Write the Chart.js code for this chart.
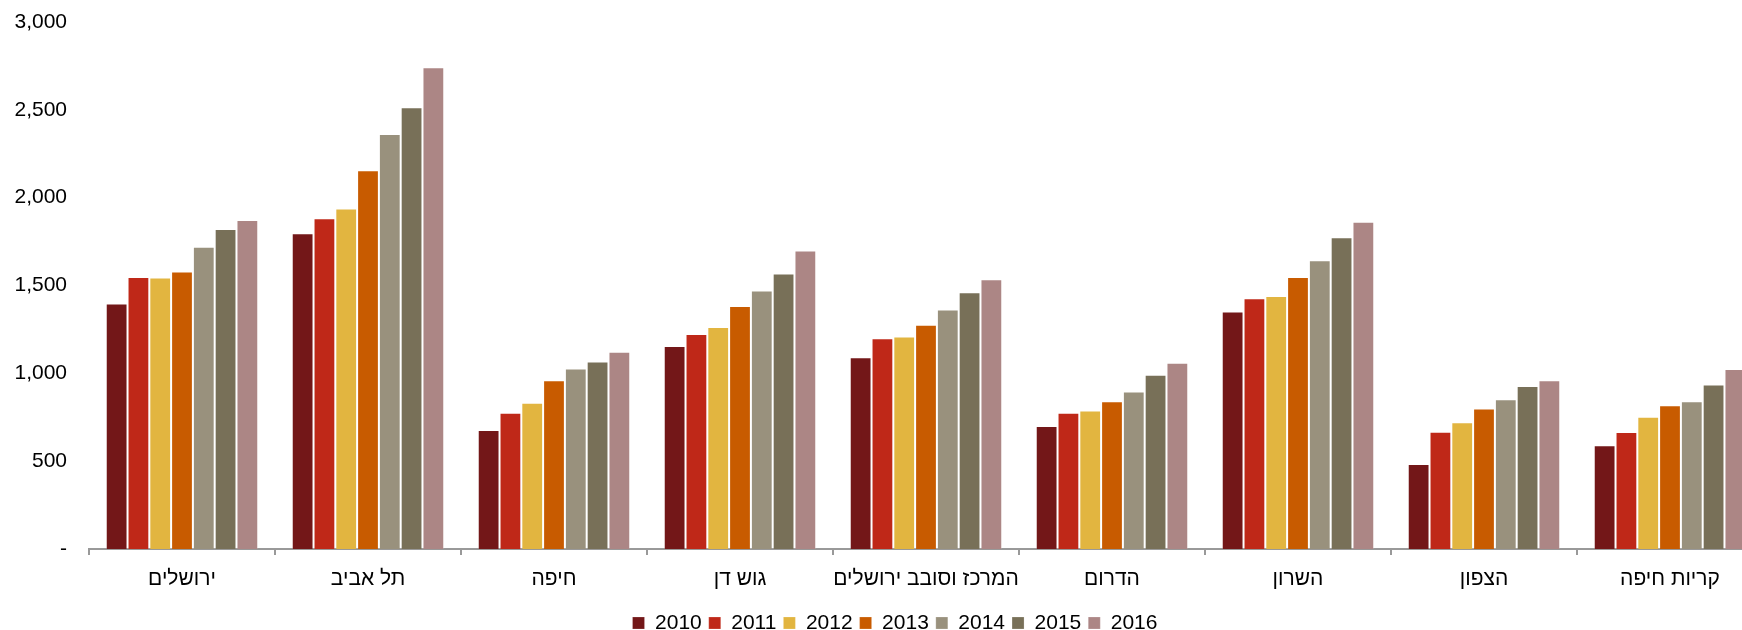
<!DOCTYPE html>
<html lang="he">
<head>
<meta charset="utf-8">
<title>מחירים לפי אזור</title>
<script src="https://cdn.jsdelivr.net/npm/chart.js@4.4.1/dist/chart.umd.min.js"></script>
<style>
    html, body { margin: 0; padding: 0; background: #fff; overflow: hidden; }
    #wrap { width: 1790px; height: 650px; }
</style>
</head>
<body>
<div id="wrap"><canvas id="regionChart" width="1790" height="650"></canvas></div>
<script>
// Regions on the x axis
const regions = ['ירושלים', 'תל אביב', 'חיפה', 'גוש דן', 'המרכז וסובב ירושלים', 'הדרום', 'השרון', 'הצפון', 'קריות חיפה'];
const years = ['2010', '2011', '2012', '2013', '2014', '2015', '2016'];

// Values per year, one entry per region
const v2010 = [1397, 1797, 677, 1156, 1092, 700, 1352, 484, 590];
const v2011 = [1548, 1883, 776, 1224, 1200, 776, 1428, 668, 666];
const v2012 = [1545, 1939, 832, 1264, 1210, 788, 1440, 721, 753];
const v2013 = [1580, 2156, 960, 1384, 1276, 841, 1548, 800, 818];
const v2014 = [1721, 2363, 1028, 1472, 1364, 896, 1644, 853, 841];
const v2015 = [1821, 2515, 1068, 1569, 1461, 992, 1775, 928, 937];
const v2016 = [1873, 2743, 1123, 1699, 1536, 1060, 1863, 960, 1025];

const yTicks = [0, 500, 1000, 1500, 2000, 2500, 3000];

const seriesValues = [v2010, v2011, v2012, v2013, v2014, v2015, v2016];
const colors = ['#731718', '#bf2818', '#e2b540', '#c85b00', '#99917d', '#787058', '#ac8685'];

const FONT = "'Liberation Sans', Arial, sans-serif";

const datasets = years.map((year, i) => ({
    label: year,
    data: seriesValues[i],
    backgroundColor: colors[i],
    borderColor: 'rgba(255,255,255,0.2)',
    borderWidth: 1,
    categoryPercentage: 0.82,
    barPercentage: 1.0
}));

// y tick labels hang left of the layout padding, so let them use the full margin
const unclipYLabels = {
    id: 'unclipYLabels',
    afterLayout(chart) {
        chart.scales.y.left = 0;
    }
};

const ctx = document.getElementById('regionChart').getContext('2d');
new Chart(ctx, {
    type: 'bar',
    data: {
        labels: regions,
        datasets: datasets
    },
    plugins: [unclipYLabels],
    options: {
        responsive: false,
        animation: false,
        layout: {
            padding: { top: 22, left: 27, right: 27, bottom: 6.5 }
        },
        plugins: {
            tooltip: { enabled: false },
            legend: {
                position: 'bottom',
                labels: {
                    boxWidth: 12,
                    boxHeight: 12,
                    padding: 7,
                    color: '#000',
                    font: { family: FONT, size: 21 }
                }
            }
        },
        scales: {
            x: {
                grid: {
                    display: true,
                    offset: true,
                    drawOnChartArea: false,
                    drawTicks: true,
                    tickLength: 6,
                    color: '#999',
                    lineWidth: 2
                },
                border: { display: true, color: '#999', width: 2 },
                ticks: {
                    color: '#000',
                    padding: 12,
                    maxRotation: 0,
                    autoSkip: false,
                    font: { family: FONT, size: 21 }
                },
                afterFit: scale => { scale.height = 56.5; }
            },
            y: {
                min: 0,
                max: 3000,
                grid: { display: false, drawTicks: false },
                border: { display: false },
                afterBuildTicks: scale => {
                    scale.ticks = yTicks.map(v => ({ value: v }));
                },
                ticks: {
                    color: '#000',
                    padding: 22,
                    font: { family: FONT, size: 21 },
                    callback: v => v === 0 ? '-' : v.toLocaleString('en-US')
                },
                afterFit: scale => {
                    scale.width = 62;
                    scale.paddingTop = 0;
                    scale.paddingBottom = 0;
                }
            }
        }
    }
});
</script>
</body>
</html>
